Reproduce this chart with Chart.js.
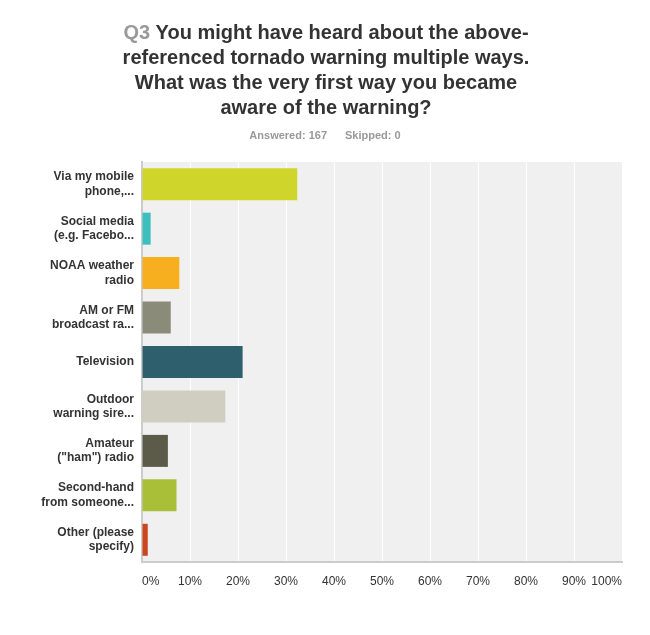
<!DOCTYPE html>
<html>
<head>
<meta charset="utf-8">
<script src="https://cdn.jsdelivr.net/npm/chart.js@4.4.0/dist/chart.umd.min.js"></script>
<style>
  body { margin: 0; background: #fff; }
  #wrap { width: 650px; height: 635px; }
</style>
</head>
<body>
<div id="wrap"><canvas id="myChart" width="650" height="635"></canvas></div>
<script>
// survey answers, percent of 167 respondents
const labels = [
  ["Via my mobile", "phone,..."],
  ["Social media", "(e.g. Facebo..."],
  ["NOAA weather", "radio"],
  ["AM or FM", "broadcast ra..."],
  ["Television"],
  ["Outdoor", "warning sire..."],
  ["Amateur", "(\"ham\") radio"],
  ["Second-hand", "from someone..."],
  ["Other (please", "specify)"]
];
const percents = [32.34, 1.80, 7.78, 5.99, 20.96, 17.37, 5.39, 7.19, 1.20];
const barColors = ["#cfd52a", "#3cbfbe", "#f7ae1f", "#8b8b7a", "#2e5f6c",
                   "#d0cec0", "#5c5a49", "#aabf38", "#c9461f"];
const xTicks = [0, 10, 20, 30, 40, 50, 60, 70, 80, 90, 100];

const titleLines = [
  "Q3 You might have heard about the above-",
  "referenced tornado warning multiple ways.",
  "What was the very first way you became",
  "aware of the warning?"
];
const answered = "Answered: 167";
const skipped = "Skipped: 0";

const FONT = "'Liberation Sans', Arial, sans-serif";

const plotBg = {
  id: "plotBg",
  beforeDraw(chart) {
    const { ctx, chartArea: a } = chart;
    ctx.save();
    ctx.fillStyle = "#f0f0f0";
    ctx.fillRect(a.left, a.top, a.right - a.left, a.bottom - a.top);
    ctx.restore();
  }
};

const header = {
  id: "header",
  afterDraw(chart) {
    const ctx = chart.ctx;
    const cx = 326;
    ctx.save();
    ctx.textBaseline = "alphabetic";
    ctx.font = "bold 20px " + FONT;
    titleLines.forEach((line, i) => {
      const y = 39 + i * 25;
      const w = ctx.measureText(line).width;
      let x = cx - w / 2;
      ctx.textAlign = "left";
      if (i === 0) {
        ctx.fillStyle = "#999999";
        ctx.fillText("Q3", x, y);
        x += ctx.measureText("Q3 ").width;
        ctx.fillStyle = "#333333";
        ctx.fillText(line.slice(3), x, y);
      } else {
        ctx.fillStyle = "#333333";
        ctx.fillText(line, x, y);
      }
    });
    ctx.font = "bold 11px " + FONT;
    ctx.fillStyle = "#999999";
    const w1 = ctx.measureText(answered).width;
    const w2 = ctx.measureText(skipped).width;
    const gap = 18;
    let x = cx - 1 - (w1 + gap + w2) / 2;
    ctx.fillText(answered, x, 139);
    ctx.fillText(skipped, x + w1 + gap, 139);
    ctx.restore();
  }
};

new Chart(document.getElementById("myChart"), {
  type: "bar",
  data: {
    labels: labels,
    datasets: [{
      data: percents,
      backgroundColor: barColors,
      borderWidth: 0,
      categoryPercentage: 1,
      barPercentage: 0.72
    }]
  },
  options: {
    indexAxis: "y",
    responsive: false,
    animation: false,
    devicePixelRatio: 1,
    layout: { padding: { top: 162, right: 28, left: 0, bottom: 0 } },
    plugins: {
      legend: { display: false },
      tooltip: { enabled: false },
      title: { display: false }
    },
    scales: {
      x: {
        min: 0,
        max: 100,
        afterBuildTicks(scale) {
          scale.ticks = xTicks.map(v => ({ value: v }));
        },
        afterFit(scale) { scale.height = 73; },
        grid: { color: "#ffffff", lineWidth: 1, drawTicks: false },
        border: { color: "#cccccc", width: 2 },
        ticks: {
          align: "inner",
          padding: 12,
          color: "#333333",
          font: { family: FONT, size: 12 },
          callback: v => v + "%"
        }
      },
      y: {
        afterFit(scale) { scale.width = 142; },
        grid: { display: false, drawTicks: false },
        border: { color: "#cccccc", width: 2 },
        ticks: {
          padding: 8,
          color: "#333333",
          font: { family: FONT, size: 12, weight: "bold", lineHeight: 1.2 }
        }
      }
    }
  },
  plugins: [plotBg, header]
});
</script>
</body>
</html>
